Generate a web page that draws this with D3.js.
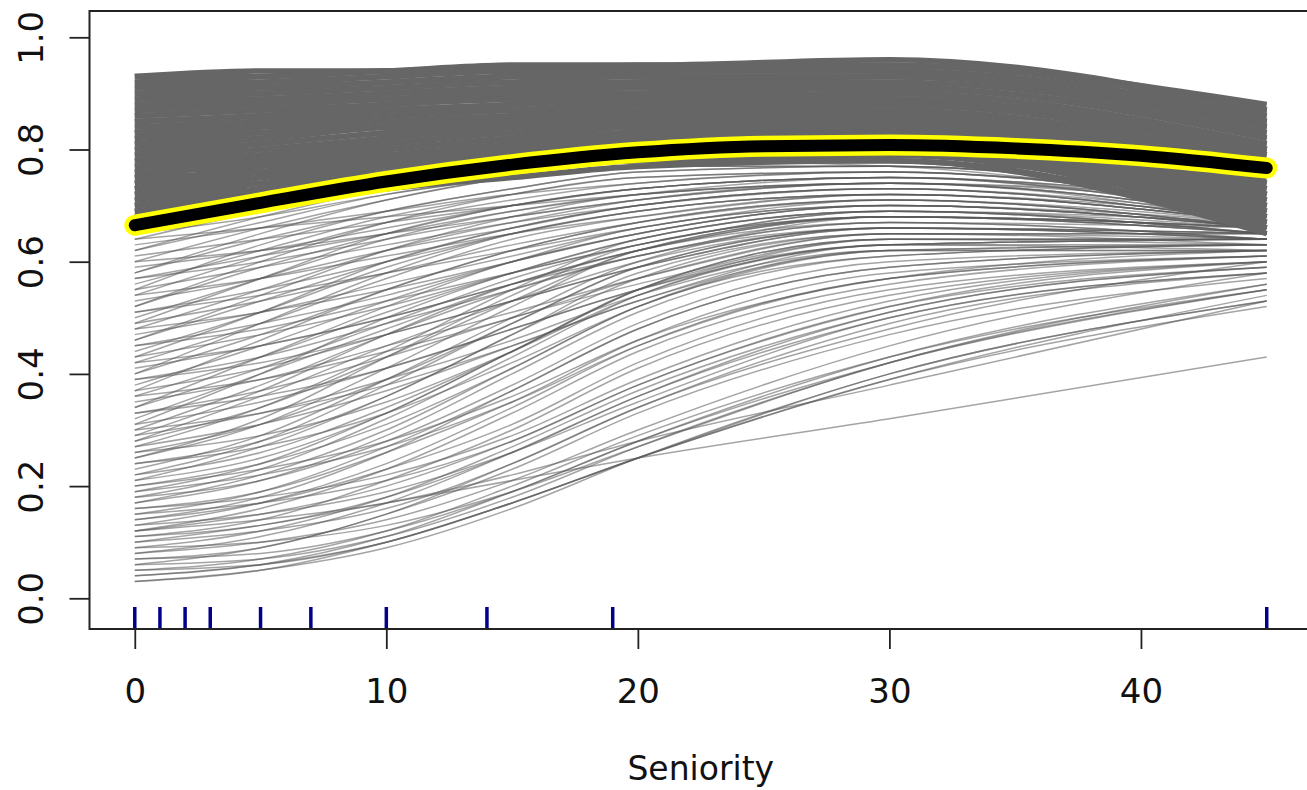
<!DOCTYPE html>
<html><head><meta charset="utf-8">
<script src="https://cdn.jsdelivr.net/npm/d3@7"></script>
<style>body{margin:0;background:#fff}svg{display:block}</style>
</head><body><svg id="chart" width="1307" height="790"></svg>
<script>
// ICE curves: predicted probability (x100) at each seniority grid value
const seniorityGrid = [0, 5, 10, 15, 20, 30, 45];

const iceUpper = [
[93,94,94,95,95,95,88],[93,93,94,95,95,96,87],[92,93,94,94,95,95,87],[92,92,93,94,94,94,86],
[91,92,93,94,94,95,87],[91,91,92,93,93,93,85],[90,91,92,93,94,94,86],[90,90,91,92,92,93,85],
[89,90,91,92,93,93,84],[89,89,90,91,92,92,84],[88,89,90,91,92,93,85],[88,88,89,90,91,91,83],
[87,88,90,91,92,92,84],[87,88,89,90,90,91,82],[86,87,88,90,91,91,83],[86,87,88,89,89,90,81],
[85,86,88,89,90,91,82],[85,86,87,88,89,89,80],[84,85,87,88,89,90,81],[84,85,86,87,88,88,80],
[83,85,86,88,89,89,80],[83,84,85,86,87,88,79],[82,84,86,87,88,89,80],[82,83,84,86,87,87,78],
[81,83,85,86,87,88,79],[81,82,84,85,86,86,77],[80,82,84,85,86,87,78],[80,81,83,84,85,86,77],
[79,81,83,85,86,86,76],[79,80,82,84,85,85,76],[78,80,82,84,85,86,77],[78,79,81,83,84,84,75],
[77,79,82,84,85,85,76],[77,78,80,82,83,84,74],[76,78,81,83,84,85,75],[76,77,79,81,82,83,73],
[75,78,80,82,84,84,74],[75,76,78,80,82,82,72],[74,77,80,82,83,84,73],[74,76,78,80,81,82,71],
[73,76,79,81,83,83,72],[73,75,77,79,81,81,70],[72,75,78,81,82,83,72],[72,74,77,79,80,81,70],
[71,74,77,80,82,82,71],[71,73,76,78,80,80,69],[70,73,77,79,81,82,70],[70,72,75,77,79,80,68],
[69,72,76,79,80,81,69],[69,71,74,77,78,79,67],[68,72,75,78,80,80,68],[68,70,73,76,78,78,66],
[67,71,75,78,79,80,67],[67,70,73,75,77,78,65],[66,70,74,77,79,80,66]
];

const iceMiddle = [
[65,68,72,75,77,78,71],[64,69,73,76,78,79,72],[63,66,69,72,74,76,70],[62,67,72,75,77,77,69],
[61,64,67,70,73,75,70],[60,66,71,75,77,78,70],[59,62,66,70,73,75,69],[58,64,69,73,76,77,70],
[57,60,64,68,71,74,68],[56,62,68,72,75,76,69],[55,59,63,67,70,73,68],[54,61,67,71,74,76,69],
[53,57,62,66,70,73,67],[52,59,65,70,73,75,68],[51,55,60,65,69,72,67],[50,57,64,69,72,74,67],
[49,53,58,63,67,71,66],[48,55,62,67,71,74,68],[47,51,56,61,66,70,66],[46,53,60,66,70,73,67],
[45,49,54,60,65,70,66],[44,51,59,65,69,72,67],[43,47,52,58,63,69,65],[42,49,57,64,68,72,67],
[41,45,50,56,62,68,65],[40,47,55,62,67,71,66],[39,43,49,55,61,67,64],[38,45,53,60,66,70,66],
[37,41,47,53,59,66,64],[36,43,51,58,64,69,65],[35,39,45,51,57,65,63],[34,41,49,57,63,68,65],
[33,37,43,50,56,64,63],[32,40,48,56,62,67,64],[31,35,41,48,55,63,62],[30,38,47,55,61,66,64],
[29,33,39,46,54,62,62],[28,36,45,53,60,66,64],
[66,71,75,77,78,77,69],[64,66,68,70,72,74,71],[62,68,73,76,78,78,70],[60,62,65,68,71,74,70],
[58,65,71,75,77,77,69],[57,61,65,69,72,75,70],[55,63,69,73,76,77,70],[54,57,61,65,68,72,68],
[52,60,67,72,75,76,69],[51,54,58,62,66,71,67],[49,57,65,70,73,75,68],[48,51,55,60,65,70,67],
[46,54,62,68,72,74,68],[45,48,53,58,63,69,66],[43,51,60,66,70,73,67],[42,45,50,56,61,68,66],
[40,49,58,65,69,72,67],[39,42,47,53,59,66,65],[37,46,55,62,67,71,66],[36,39,44,50,57,65,64],
[34,43,52,60,65,70,66],[33,36,41,48,55,64,64],[31,40,50,58,64,69,65],[30,33,38,45,53,63,63],
[29,37,47,56,62,68,65],[27,31,37,45,53,62,62]
];

const iceLower = [
[3,5,10,17,25,39,52],[4,6,10,17,25,39,54],[5,7,12,20,29,43,55],[6,7,11,18,27,42,56],
[7,9,15,23,33,47,57],[8,10,14,21,30,45,58],[9,12,18,27,37,51,59],[10,12,16,24,34,49,58],
[11,14,21,30,41,54,60],[12,15,20,28,38,52,59],[13,17,24,34,45,57,61],[14,17,23,31,42,55,60],
[15,19,27,37,48,59,62],[16,19,26,35,46,58,61],[17,22,30,41,52,61,63],[18,21,28,38,49,60,62],
[19,24,33,44,55,63,64],[20,24,31,41,52,62,63],[21,27,36,47,58,65,65],[22,26,34,44,55,64,64],
[23,29,39,50,60,67,66],[24,28,36,47,57,65,65],[25,31,41,52,62,68,66],[26,31,39,49,59,66,65],
[27,34,44,55,64,69,67],[10,13,17,21,25,32,43],[12,14,17,22,28,38,53],[6,9,15,24,34,48,60],
[4,6,11,19,28,42,55],[5,6,10,17,25,40,53],[7,8,12,19,28,43,56],[8,11,17,26,36,50,58],
[9,10,13,19,27,42,55],[11,13,18,26,36,51,59],[12,16,23,33,44,56,61],[13,15,19,26,35,50,58],
[14,18,26,37,48,59,62],[16,18,22,29,39,53,60],[17,21,29,40,51,61,63],[18,23,32,43,54,63,64],
[19,22,27,35,45,57,61],[21,25,33,44,55,64,64],[22,28,38,49,59,66,65],[24,27,33,42,52,62,63],
[25,32,43,54,63,68,66],[26,29,35,44,54,63,64],[28,34,43,53,62,68,66],[20,23,28,36,46,57,62],
[15,17,21,28,38,52,60],[3,5,9,16,25,40,53]
];

// partial dependence (average) curve
const pdGrid = [0, 5, 10, 15, 20, 25, 30, 35, 40, 45];
const pdValues = [0.665, 0.705, 0.743, 0.773, 0.795, 0.806, 0.808, 0.802, 0.789, 0.767];

// rug (observed seniority values)
const rugSeniority = [0, 1, 2, 3, 5, 7, 10, 14, 19, 45];

const xTicks = [0, 10, 20, 30, 40];
const yTicks = [0, 0.2, 0.4, 0.6, 0.8, 1.0];
const xLabel = "Seniority";

const svg = d3.select("#chart");
const FONT = "'DejaVu Sans', sans-serif";
const box = {left: 89.5, right: 1312, top: 11, bottom: 629};

const x = d3.scaleLinear().domain([-1.8, 46.8]).range([box.left, box.right]);
const y = d3.scaleLinear().domain([0, 1]).range([598.3, 37.3]);

svg.append("defs").append("clipPath").attr("id", "clip")
  .append("rect").attr("x", box.left).attr("y", box.top)
  .attr("width", box.right - box.left).attr("height", box.bottom - box.top);

const plot = svg.append("g").attr("clip-path", "url(#clip)");

const iceLine = d3.line()
  .x((d, i) => x(seniorityGrid[i]))
  .y(d => y(d / 100))
  .curve(d3.curveMonotoneX);

plot.append("g").selectAll("path").data(iceLower.concat(iceMiddle)).join("path")
  .attr("d", iceLine).attr("fill", "none")
  .attr("stroke", "#5a5a5a").attr("stroke-opacity", 0.55).attr("stroke-width", 1.5);

plot.append("g").selectAll("path").data(iceUpper).join("path")
  .attr("d", iceLine).attr("fill", "none")
  .attr("stroke", "#666").attr("stroke-opacity", 1).attr("stroke-width", 5.6);

const pdLine = d3.line()
  .x((d, i) => x(pdGrid[i]))
  .y(d => y(d))
  .curve(d3.curveMonotoneX);

plot.append("path").datum(pdValues).attr("d", pdLine).attr("fill", "none")
  .attr("stroke", "#ffff00").attr("stroke-width", 21).attr("stroke-linecap", "round");
plot.append("path").datum(pdValues).attr("d", pdLine).attr("fill", "none")
  .attr("stroke", "#000").attr("stroke-width", 12).attr("stroke-linecap", "round");

// rug
plot.append("g").selectAll("line").data(rugSeniority).join("line")
  .attr("x1", d => x(d)).attr("x2", d => x(d))
  .attr("y1", 607).attr("y2", box.bottom)
  .attr("stroke", "#00008b").attr("stroke-width", 3.5);

// box
svg.append("rect").attr("x", box.left).attr("y", box.top)
  .attr("width", box.right - box.left).attr("height", box.bottom - box.top)
  .attr("fill", "none").attr("stroke", "#222").attr("stroke-width", 2);

// x axis
const xAxis = svg.append("g").attr("transform", `translate(0,${box.bottom})`)
  .call(d3.axisBottom(x).tickValues(xTicks).tickSize(20).tickFormat(d3.format("d")));
xAxis.select(".domain").remove();
xAxis.selectAll("line").attr("stroke", "#222").attr("stroke-width", 1.8);
xAxis.selectAll("text").attr("y", 74).attr("dy", 0)
  .attr("font-family", FONT).attr("font-size", 34).attr("fill", "#111");

// y axis
const yAxis = svg.append("g").attr("transform", `translate(${box.left},0)`)
  .call(d3.axisLeft(y).tickValues(yTicks).tickSize(20).tickFormat(d3.format(".1f")));
yAxis.select(".domain").remove();
yAxis.selectAll("line").attr("stroke", "#222").attr("stroke-width", 1.8);
yAxis.selectAll("text").attr("x", 0).attr("dy", 0)
  .attr("transform", "translate(-47,0) rotate(-90)")
  .attr("text-anchor", "middle")
  .attr("font-family", FONT).attr("font-size", 34).attr("fill", "#111");

// x label
svg.append("text").attr("x", x(22.5)).attr("y", 780)
  .attr("text-anchor", "middle").attr("font-family", FONT).attr("font-size", 33)
  .attr("fill", "#111").text(xLabel);
</script></body></html>
